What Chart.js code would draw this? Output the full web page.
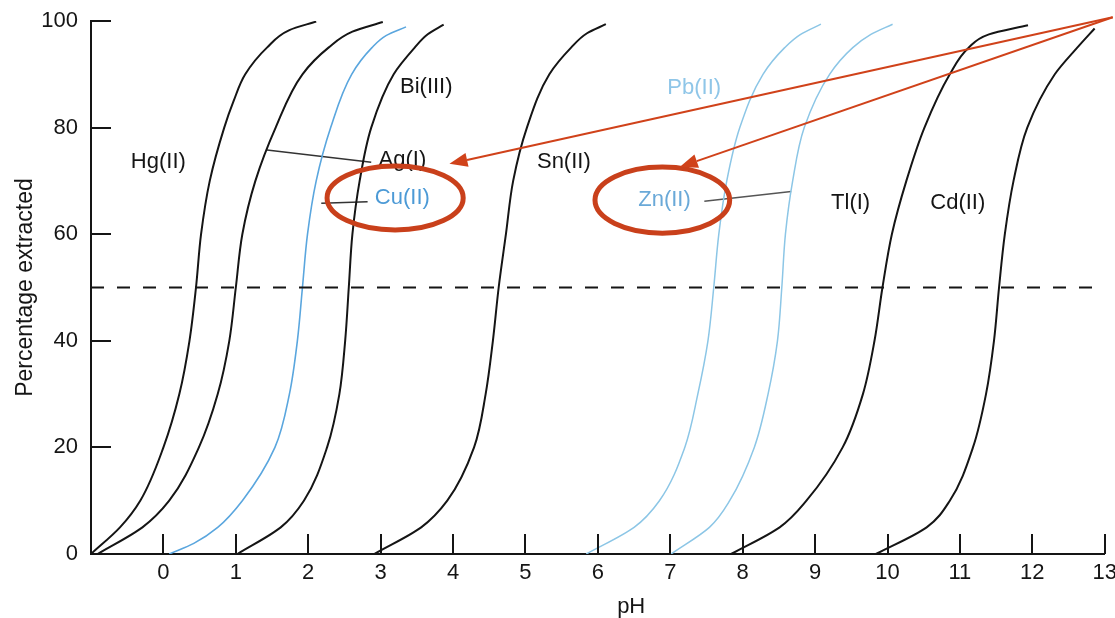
<!DOCTYPE html>
<html>
<head>
<meta charset="utf-8">
<script src="https://cdn.jsdelivr.net/npm/chart.js@4.4.1/dist/chart.umd.min.js"></script>
<style>
  html, body { margin: 0; padding: 0; background: #fff; overflow: hidden; }
  #wrap { position: relative; width: 1123px; height: 618px; }
</style>
</head>
<body>
<div id="wrap"><canvas id="extractionChart"></canvas></div>
<script>
// extraction curves, pH at each percentage level
const hgPH  = [-1.00, -0.60, -0.32, 0.00, 0.22, 0.36, 0.45, 0.52, 0.64, 0.84, 0.97, 1.13, 1.43, 1.74, 2.11];
const hgPct = [0, 5, 10, 20, 30, 40, 50, 60, 70, 80, 85, 90, 95, 98.3, 99.9];
const agPH  = [-0.91, -0.29, 0.08, 0.49, 0.75, 0.91, 1.00, 1.09, 1.27, 1.55, 1.92, 2.28, 2.61, 3.03];
const agPct = [0, 5, 10, 20, 30, 40, 50, 60, 70, 80, 90, 95, 98, 99.8];
const cuPH  = [0.08, 0.42, 0.75, 1.09, 1.54, 1.74, 1.85, 1.92, 1.99, 2.11, 2.31, 2.60, 2.88, 3.08, 3.35];
const cuPct = [0, 2, 5, 10, 20, 30, 40, 50, 60, 70, 80, 90, 95, 97.3, 98.9];
const biPH  = [1.02, 1.62, 1.94, 2.26, 2.43, 2.51, 2.56, 2.61, 2.71, 2.87, 3.18, 3.47, 3.65, 3.87];
const biPct = [0, 5, 10, 20, 30, 40, 50, 60, 70, 80, 90, 95, 97.5, 99.3];
const snPH  = [2.91, 3.56, 3.92, 4.29, 4.45, 4.55, 4.63, 4.73, 4.83, 5.02, 5.33, 5.63, 5.85, 6.11];
const snPct = [0, 5, 10, 20, 30, 40, 50, 60, 70, 80, 90, 95, 97.7, 99.4];
const pbPH  = [5.84, 6.50, 6.85, 7.20, 7.38, 7.52, 7.60, 7.67, 7.78, 7.96, 8.28, 8.58, 8.80, 9.08];
const pbPct = [0, 5, 10, 20, 30, 40, 50, 60, 70, 80, 90, 95, 97.5, 99.4];
const znPH  = [7.01, 7.54, 7.82, 8.16, 8.35, 8.48, 8.54, 8.59, 8.69, 8.85, 9.20, 9.52, 9.77, 10.07];
const znPct = [0, 5, 10, 20, 30, 40, 50, 60, 70, 80, 90, 95, 97.5, 99.4];
const tlPH  = [7.84, 8.51, 8.88, 9.38, 9.66, 9.82, 9.93, 10.06, 10.26, 10.51, 10.86, 11.12, 11.40, 11.94];
const tlPct = [0, 5, 10, 20, 30, 40, 50, 60, 70, 80, 90, 95, 97.5, 99.2];
const cdPH  = [9.84, 10.54, 10.86, 11.18, 11.36, 11.47, 11.54, 11.62, 11.74, 11.93, 12.31, 12.62, 12.86];
const cdPct = [0, 5, 10, 20, 30, 40, 50, 60, 70, 80, 90, 95, 98.6];

// 50 % reference line
const halfPH  = [-1, 13];
const halfPct = [50, 50];

// leader lines from labels to curves
const agLeadPH = [1.43, 2.87], agLeadPct = [75.8, 73.5];
const cuLeadPH = [2.18, 2.82], cuLeadPct = [65.8, 66.1];
const znLeadPH = [7.47, 8.67], znLeadPct = [66.2, 68.0];

// curve labels
const labelNames = ['Hg(II)', 'Bi(III)', 'Ag(I)', 'Cu(II)', 'Sn(II)', 'Pb(II)', 'Zn(II)', 'Tl(I)', 'Cd(II)'];
const labelPH    = [-0.07, 3.63, 3.30, 3.30, 5.53, 7.33, 6.92, 9.49, 10.97];
const labelPct   = [73.5, 87.6, 73.9, 66.8, 73.5, 87.4, 66.4, 65.9, 65.9];
const labelColors = ['#151515', '#151515', '#151515', '#4c9ad6', '#151515', '#8fc6e8', '#6aa9d8', '#151515', '#151515'];

// red highlight marks
const ringPH = [3.20, 6.89], ringPct = [66.8, 66.4];
const ringHalfPH = [0.94, 0.93], ringHalfPct = [6.0, 6.2];
const arrowFromPH = 13.11, arrowFromPct = 100.7;
const arrowTipPH = [3.95, 7.13], arrowTipPct = [73.2, 72.6];

const xMin = -1, xMax = 13;
const FONT = '"Liberation Sans", Arial, Helvetica, sans-serif';
const BLACK = '#151515';

function pts(xs, ys) { return xs.map((v, i) => ({ x: v, y: ys[i] })); }

// curves are smoothed along the percentage axis, so pH is a smooth function of %
function curve(name, xs, ys, color, width) {
  return {
    label: name, data: pts(xs, ys), borderColor: color, borderWidth: width,
    indexAxis: 'y', cubicInterpolationMode: 'monotone',
    pointRadius: 0, showLine: true, fill: false
  };
}

function straight(name, xs, ys, color, width, dash) {
  return {
    label: name, data: pts(xs, ys), borderColor: color, borderWidth: width,
    pointRadius: 0, showLine: true, borderDash: dash || [], tension: 0, fill: false
  };
}

const overlay = {
  id: 'overlay',
  afterDatasetsDraw(chart) {
    const { ctx, scales: { x, y } } = chart;
    const px = v => x.getPixelForValue(v);
    const py = v => y.getPixelForValue(v);
    ctx.save();

    // inward tick marks
    ctx.strokeStyle = BLACK;
    ctx.lineWidth = 2;
    ctx.beginPath();
    x.ticks.forEach(t => {
      if (t.value <= xMin) return;
      const X = Math.round(px(t.value));
      ctx.moveTo(X, y.bottom);
      ctx.lineTo(X, y.bottom - 20);
    });
    y.ticks.forEach(t => {
      if (t.value <= 0) return;
      const Y = Math.round(py(t.value));
      ctx.moveTo(x.left, Y);
      ctx.lineTo(x.left + 20, Y);
    });
    ctx.stroke();

    // curve labels
    ctx.font = '22px ' + FONT;
    ctx.textAlign = 'center';
    ctx.textBaseline = 'middle';
    labelNames.forEach((name, i) => {
      ctx.fillStyle = labelColors[i];
      ctx.fillText(name, px(labelPH[i]), py(labelPct[i]));
    });

    // x axis title
    ctx.fillStyle = BLACK;
    ctx.fillText('pH', px(6.46), py(-10));

    // red rings
    ctx.strokeStyle = '#c9401b';
    ctx.lineWidth = 5;
    ringPH.forEach((cx, i) => {
      const X = px(cx), Y = py(ringPct[i]);
      const rx = px(cx + ringHalfPH[i]) - X;
      const ry = Y - py(ringPct[i] + ringHalfPct[i]);
      ctx.beginPath();
      ctx.ellipse(X, Y, rx, ry, 0, 0, Math.PI * 2);
      ctx.stroke();
    });

    // red arrows
    const ox = px(arrowFromPH), oy = py(arrowFromPct);
    ctx.strokeStyle = '#d0421a';
    ctx.fillStyle = '#d0421a';
    ctx.lineWidth = 2;
    arrowTipPH.forEach((tp, i) => {
      const tx = px(tp), ty = py(arrowTipPct[i]);
      const ang = Math.atan2(ty - oy, tx - ox);
      const hl = 18, hw = 7;
      const bx = tx - hl * Math.cos(ang), by = ty - hl * Math.sin(ang);
      ctx.beginPath();
      ctx.moveTo(ox, oy);
      ctx.lineTo(bx, by);
      ctx.stroke();
      ctx.beginPath();
      ctx.moveTo(tx, ty);
      ctx.lineTo(bx + hw * Math.sin(ang), by - hw * Math.cos(ang));
      ctx.lineTo(bx - hw * Math.sin(ang), by + hw * Math.cos(ang));
      ctx.closePath();
      ctx.fill();
    });

    ctx.restore();
  }
};

new Chart(document.getElementById('extractionChart'), {
  type: 'scatter',
  data: {
    datasets: [
      straight('50%', halfPH, halfPct, BLACK, 2, [13, 13]),
      curve('Hg(II)', hgPH, hgPct, BLACK, 2),
      curve('Ag(I)', agPH, agPct, BLACK, 2),
      curve('Cu(II)', cuPH, cuPct, '#5aa6de', 1.6),
      curve('Bi(III)', biPH, biPct, BLACK, 2),
      curve('Sn(II)', snPH, snPct, BLACK, 2),
      curve('Pb(II)', pbPH, pbPct, '#8cc6e6', 1.5),
      curve('Zn(II)', znPH, znPct, '#8cc6e6', 1.5),
      curve('Tl(I)', tlPH, tlPct, BLACK, 2),
      curve('Cd(II)', cdPH, cdPct, BLACK, 2),
      straight('Ag lead', agLeadPH, agLeadPct, '#333', 1.5),
      straight('Cu lead', cuLeadPH, cuLeadPct, '#333', 1.5),
      straight('Zn lead', znLeadPH, znLeadPct, '#555', 1.5)
    ]
  },
  options: {
    responsive: true,
    maintainAspectRatio: false,
    animation: false,
    layout: { padding: { top: 21, right: 0, left: 0, bottom: 0 } },
    plugins: { legend: { display: false }, tooltip: { enabled: false } },
    scales: {
      x: {
        type: 'linear', min: xMin, max: xMax,
        grid: { display: false, drawTicks: false },
        border: { display: true, color: BLACK, width: 2 },
        ticks: {
          stepSize: 1, padding: 6, color: BLACK,
          font: { family: FONT, size: 22 },
          callback: v => (v < 0 ? '' : v)
        },
        afterFit: s => { s.height = 64; }
      },
      y: {
        type: 'linear', min: 0, max: 100,
        grid: { display: false, drawTicks: false },
        border: { display: true, color: BLACK, width: 2 },
        ticks: { stepSize: 20, padding: 13, color: BLACK, font: { family: FONT, size: 22 } },
        title: {
          display: true, text: 'Percentage extracted', color: BLACK,
          font: { family: FONT, size: 23 }, padding: { top: 12, bottom: 0 }
        },
        afterFit: s => { s.width = 91; s.paddingTop = 0; }
      }
    }
  },
  plugins: [overlay]
});
</script>
</body>
</html>
